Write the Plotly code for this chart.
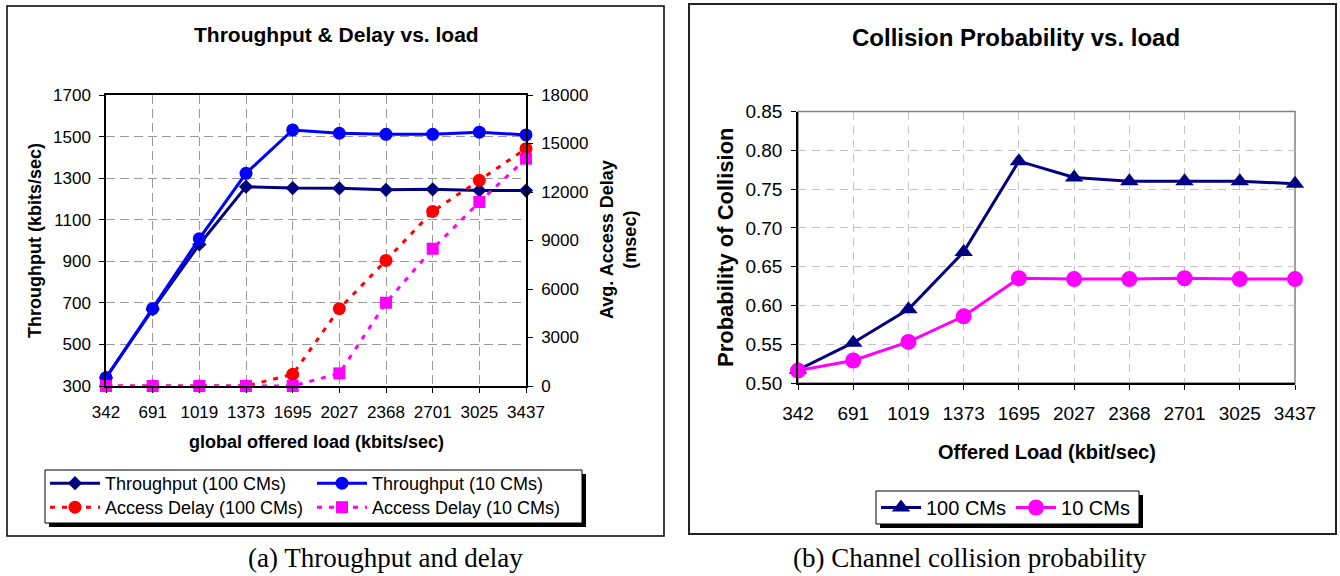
import plotly.graph_objects as go

# ---------------- data ----------------
loads = ["342", "691", "1019", "1373", "1695", "2027", "2368", "2701", "3025", "3437"]
thr_100 = [340, 669, 981, 1259, 1252, 1251, 1244, 1246, 1241, 1240]
thr_10 = [340, 672, 1009, 1323, 1532, 1516, 1511, 1511, 1521, 1508]
delay_100 = [0, 0, 0, 0, 720, 4780, 7770, 10800, 12720, 14680]
delay_10 = [0, 0, 0, 0, 0, 780, 5150, 8490, 11380, 14060]
coll_100 = [0.517, 0.552, 0.595, 0.669, 0.786, 0.765, 0.760, 0.760, 0.760, 0.757]
coll_10 = [0.516, 0.529, 0.553, 0.586, 0.635, 0.634, 0.634, 0.635, 0.634, 0.634]

W, H = 1340, 576
SANS = "Arial, Liberation Sans, sans-serif"
SERIF = "Times New Roman, Liberation Serif, serif"


def px(x):
    return x / W


def py(y):
    return 1 - y / H


fig = go.Figure()

# ---------------- left chart ----------------
fig.add_trace(go.Scatter(
    x=loads, y=thr_100, name="Throughput (100 CMs)", mode="lines+markers",
    line=dict(color="#000080", width=3), marker=dict(symbol="diamond", size=11, color="#000080"),
    xaxis="x", yaxis="y", cliponaxis=False, legend="legend", showlegend=True))
fig.add_trace(go.Scatter(
    x=loads, y=thr_10, name="Throughput (10 CMs)", mode="lines+markers",
    line=dict(color="#0000FF", width=3), marker=dict(symbol="circle", size=13, color="#0000FF"),
    xaxis="x", yaxis="y", cliponaxis=False, legend="legend3", showlegend=True))
fig.add_trace(go.Scatter(
    x=loads, y=delay_100, name="Access Delay (100 CMs)", mode="lines+markers",
    line=dict(color="#FF0000", width=3, dash="5px,7px"), marker=dict(symbol="circle", size=13, color="#FF0000"),
    xaxis="x", yaxis="y2", cliponaxis=False, legend="legend4", showlegend=True))
fig.add_trace(go.Scatter(
    x=loads, y=delay_10, name="Access Delay (10 CMs)", mode="lines+markers",
    line=dict(color="#FF00FF", width=3, dash="5px,7px"), marker=dict(symbol="square", size=12, color="#FF00FF"),
    xaxis="x", yaxis="y2", cliponaxis=False, legend="legend5", showlegend=True))

# ---------------- right chart ----------------
fig.add_trace(go.Scatter(
    x=loads, y=coll_100, name="100 CMs", mode="lines+markers",
    line=dict(color="#000080", width=3), marker=dict(symbol="triangle-up", size=16, color="#000080"),
    xaxis="x3", yaxis="y3", cliponaxis=False, legend="legend2", showlegend=True))
fig.add_trace(go.Scatter(
    x=loads, y=coll_10, name="10 CMs", mode="lines+markers",
    line=dict(color="#FF00FF", width=3), marker=dict(symbol="circle", size=16, color="#FF00FF"),
    xaxis="x3", yaxis="y3", cliponaxis=False, legend="legend2", showlegend=True))

tickfont_l = dict(family=SANS, size=17, color="black")
tickfont_r = dict(family=SANS, size=19, color="black")

common_axis = dict(showline=True, linecolor="black", ticks="outside", ticklen=5,
                   tickcolor="black", zeroline=False, fixedrange=True)


def leg(x, y, size=18, orient="v", itemwidth=50):
    return dict(x=px(x), y=py(y), xanchor="left", yanchor="top", orientation=orient,
                bgcolor="rgba(0,0,0,0)", borderwidth=0, itemwidth=itemwidth, tracegroupgap=0,
                font=dict(family=SANS, size=size, color="black"))


fig.update_layout(
    width=W, height=H, autosize=False, showlegend=True,
    margin=dict(l=0, r=0, t=0, b=0, pad=0, autoexpand=False),
    paper_bgcolor="white", plot_bgcolor="white",
    xaxis=dict(domain=[px(106), px(526)], anchor="y", type="category", range=[0, 9],
               showgrid=True, gridcolor="#9a9a9a", griddash="9px,5px", gridwidth=1,
               linewidth=2, mirror=True, tickfont=tickfont_l, ticklabelstandoff=5, **common_axis),
    yaxis=dict(domain=[py(386), py(95)], anchor="x", range=[300, 1700], dtick=200, tick0=300,
               showgrid=True, gridcolor="#9a9a9a", griddash="9px,5px", gridwidth=1,
               linewidth=1.5, tickfont=tickfont_l, ticklabelstandoff=5, **common_axis),
    yaxis2=dict(overlaying="y", anchor="x", side="right", range=[0, 18000], dtick=3000,
                tickformat="d", showgrid=False, linewidth=1.5, tickfont=tickfont_l,
                ticklabelstandoff=5, **common_axis),
    xaxis3=dict(domain=[px(798), px(1295)], anchor="y3", type="category", range=[0, 9],
                showgrid=True, gridcolor="#c4c4c4", griddash="8px,6px", gridwidth=1,
                linewidth=1.5, tickfont=tickfont_r, ticklabelstandoff=7, **common_axis),
    yaxis3=dict(domain=[py(383), py(111.5)], anchor="x3", range=[0.5, 0.85], dtick=0.05, tick0=0.5,
                tickformat=".2f", showgrid=True, gridcolor="#c4c4c4", griddash="8px,6px", gridwidth=1,
                linewidth=1.5, tickfont=tickfont_r, ticklabelstandoff=5, **common_axis),
    legend=leg(45, 465),
    legend3=leg(312, 465),
    legend4=leg(45, 489),
    legend5=leg(312, 489),
    legend2=leg(876, 488, size=20, orient="h", itemwidth=40),
)

shapes = [
    # panel borders
    dict(type="rect", xref="paper", yref="paper", x0=px(7), x1=px(664), y0=py(536), y1=py(6),
         line=dict(color="black", width=1.5), fillcolor="rgba(0,0,0,0)", layer="below"),
    dict(type="rect", xref="paper", yref="paper", x0=px(689), x1=px(1336), y0=py(534), y1=py(4),
         line=dict(color="#222222", width=2), fillcolor="rgba(0,0,0,0)", layer="below"),
    # right plot area gray frame
    dict(type="rect", xref="x3 domain", yref="y3 domain", x0=0, x1=1, y0=0, y1=1,
         line=dict(color="#808080", width=1.5), fillcolor="rgba(0,0,0,0)", layer="below"),
    # left legend box with shadow
    dict(type="rect", xref="paper", yref="paper", x0=px(49), x1=px(586), y0=py(527), y1=py(474),
         line=dict(width=0), fillcolor="black", layer="above"),
    dict(type="rect", xref="paper", yref="paper", x0=px(45), x1=px(582), y0=py(523), y1=py(470),
         line=dict(color="black", width=1), fillcolor="white", layer="above"),
    # right legend box with shadow
    dict(type="rect", xref="paper", yref="paper", x0=px(880), x1=px(1143), y0=py(528), y1=py(495),
         line=dict(width=0), fillcolor="black", layer="above"),
    dict(type="rect", xref="paper", yref="paper", x0=px(876), x1=px(1139), y0=py(524), y1=py(491),
         line=dict(color="black", width=1), fillcolor="white", layer="above"),
]
fig.update_layout(shapes=shapes)


def ann(text, x, y, size, family=SANS, bold=False, angle=0):
    return dict(text=text, x=px(x), y=py(y), xref="paper", yref="paper",
                xanchor="center", yanchor="middle", showarrow=False, textangle=angle,
                font=dict(family=family, size=size, color="black",
                          weight="bold" if bold else "normal"))


annotations = [
    ann("Throughput &amp; Delay vs. load", 336, 35, 21, bold=True),
    ann("Throughput (kbits/sec)", 35, 241, 18, bold=True, angle=-90),
    ann("Avg. Access Delay<br>(msec)", 618, 240, 18, bold=True, angle=-90),
    ann("global offered load (kbits/sec)", 316, 442, 18, bold=True),
    ann("Collision Probability vs. load", 1016, 37, 24, bold=True),
    ann("Probability of Collision", 725, 247, 22, bold=True, angle=-90),
    ann("Offered Load (kbit/sec)", 1047, 452, 20, bold=True),
    ann("(a) Throughput and delay", 386, 558, 27, family=SERIF),
    ann("(b) Channel collision probability", 970, 558, 27, family=SERIF),
]
fig.update_layout(annotations=annotations)

fig.write_html("out.html")
